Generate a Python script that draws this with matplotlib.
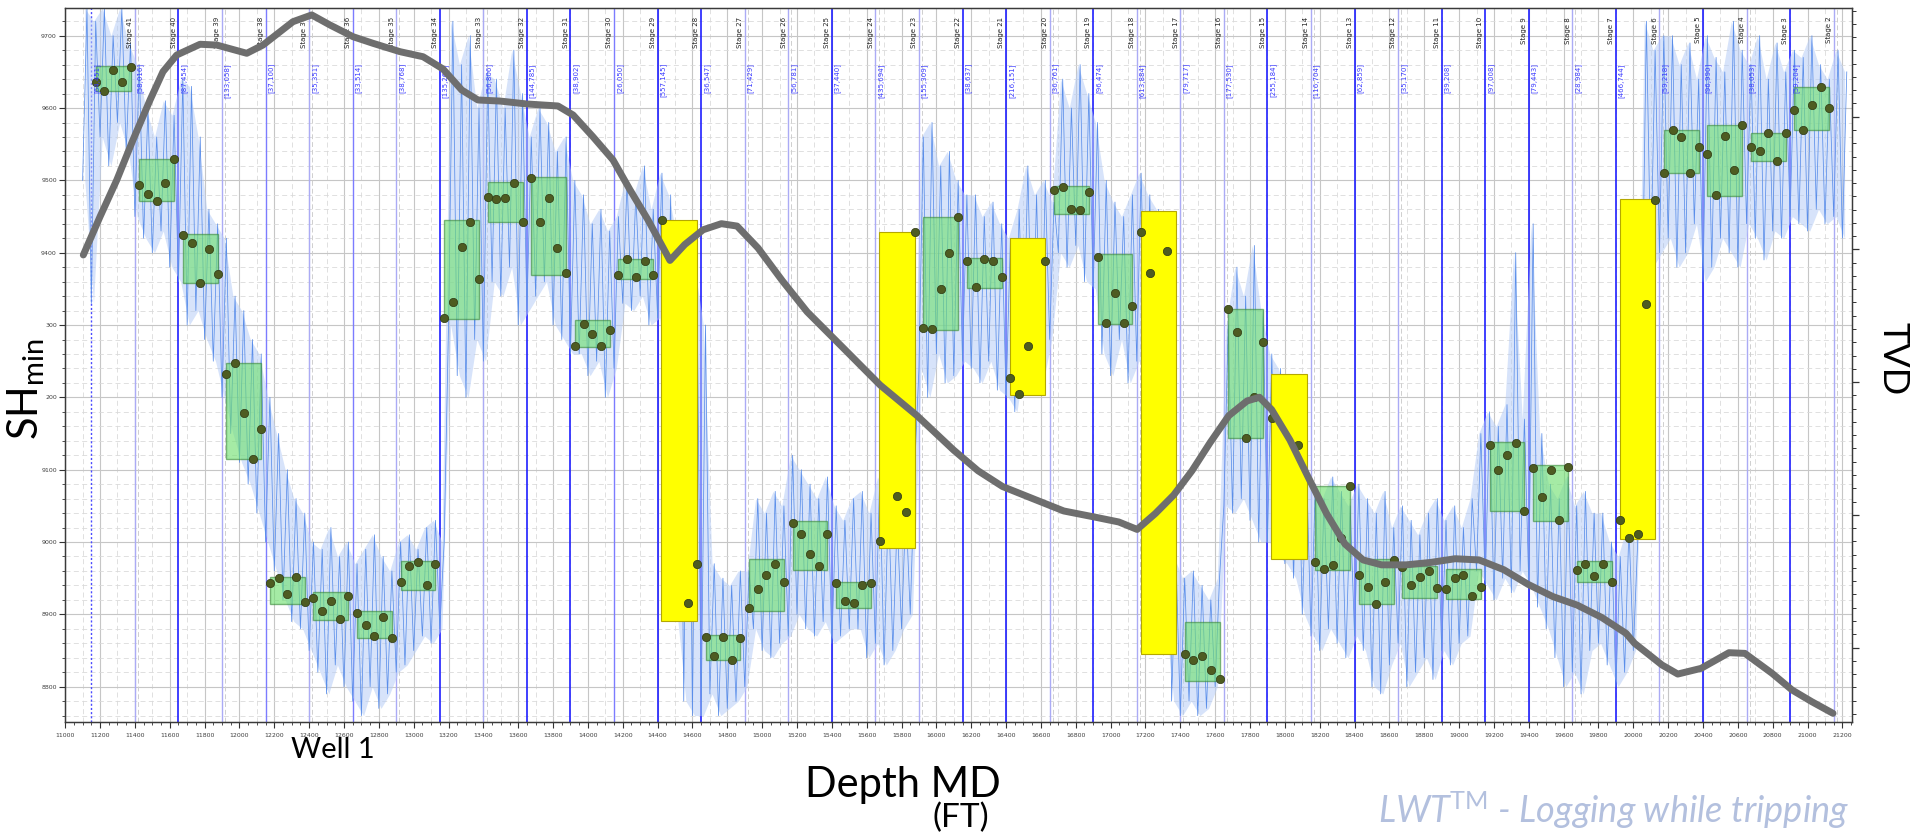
import numpy as np
import matplotlib
matplotlib.use("Agg")
import matplotlib.pyplot as plt
from matplotlib.patches import Rectangle
from matplotlib.ticker import MultipleLocator
import matplotlib.transforms as mtransforms

plt.rcParams['mathtext.fontset'] = 'custom'
plt.rcParams['mathtext.rm'] = 'Lato'
plt.rcParams['mathtext.it'] = 'Lato:italic'

# ---------------- data ----------------
# stage boundaries (MD, ft), 41 boundaries -> 40 stages (Stage 41 ... Stage 2)
stage_bounds = np.arange(11150, 21151, 250)
stage_names = [f"Stage {n}" for n in range(41, 1, -1)]
stage_tags = ["[64,451]", "[58,016]", "[87,454]", "[133,058]", "[37,100]", "[35,351]",
              "[33,514]", "[38,768]", "[135,260]", "[56,806]", "[144,785]", "[38,902]",
              "[26,050]", "[557,145]", "[36,547]", "[71,429]", "[56,781]", "[37,440]",
              "[435,694]", "[155,309]", "[38,637]", "[216,151]", "[36,761]", "[96,474]",
              "[613,884]", "[79,717]", "[177,530]", "[255,184]", "[116,704]", "[62,859]",
              "[35,170]", "[39,208]", "[97,008]", "[79,443]", "[28,984]", "[466,744]",
              "[59,218]", "[96,990]", "[38,053]", "[59,204]"]
bright_line = [2, 0, 2, 0, 1, 0, 1, 0, 2, 0, 2, 2, 1, 2, 2, 0, 0, 2, 0, 0, 2,
               2, 0, 2, 0, 0, 0, 2, 0, 2, 0, 2, 2, 2, 0, 2, 0, 2, 0, 2, 0]

# SHmin estimates per stage (5 per stage), NaN = not visible
stage_points = [
    [9636, 9624, 9653, 9636, 9657], [9494, 9481, 9472, 9496, 9530],
    [9424, 9413, 9358, 9405, 9370], [9232, 9248, 9179, 9115, 9156],
    [8944, 8950, 8928, 8951, 8917], [8922, 8905, 8918, 8893, 8925],
    [8902, 8885, 8870, 8896, 8868], [8945, 8967, 8972, 8940, 8970],
    [9310, 9332, 9408, 9443, 9364], [9477, 9474, 9476, 9497, 9443],
    [9503, 9442, 9476, 9406, 9372], [9271, 9302, 9288, 9271, 9293],
    [9369, 9391, 9367, 9388, 9369], [9445, np.nan, np.nan, 8916, 8970],
    [8869, 8843, 8869, 8837, 8867], [8909, 8935, 8955, 8970, 8945],
    [9026, 9011, 8984, 8967, 9011], [8943, 8918, 8916, 8941, 8943],
    [9002, np.nan, 9063, 9041, 9428], [9296, 9294, 9350, 9400, 9449],
    [9388, 9352, 9391, 9388, 9366], [9227, 9205, 9271, np.nan, 9389],
    [9487, 9491, 9460, 9459, 9484], [9394, 9303, 9344, 9303, 9327],
    [9428, 9372, np.nan, 9403, np.nan], [8845, 8837, 8843, 8823, 8810],
    [9322, 9290, 9144, 9200, 9276], [9171, np.nan, np.nan, 9134, np.nan],
    [8972, 8963, 8968, 9006, 9077], [8955, 8938, 8914, 8945, 8975],
    [8965, 8941, 8952, 8960, 8936], [8935, 8950, 8955, 8925, 8938],
    [9134, 9100, 9121, 9137, 9043], [9102, 9062, 9099, 9031, 9104],
    [8962, 8970, 8953, 8969, 8945], [9031, 9006, 9011, 9329, 9473],
    [9510, 9570, 9560, 9510, 9546], [9537, 9480, 9561, 9514, 9576],
    [9546, 9540, 9565, 9527, 9565], [9597, 9570, 9604, 9629, 9600],
]
box_lo = [9624, 9471, 9358, 9115, 8915, 8892, 8867, 8933, 9308, 9442, 9369, 9269, 9364,
          8891, 8837, 8904, 8962, 8909, 8992, 9293, 9351, 9203, 9454, 9301, 8845, 8808,
          9144, 8977, 8962, 8914, 8923, 8921, 9043, 9029, 8945, 9004, 9510, 9479, 9527, 9569]
box_hi = [9658, 9530, 9426, 9248, 8952, 8931, 8904, 8974, 9445, 9498, 9504, 9307, 9391,
          9445, 8872, 8977, 9029, 8945, 9428, 9450, 9393, 9420, 9492, 9398, 9457, 8889,
          9322, 9232, 9078, 8977, 8967, 8963, 9138, 9107, 8974, 9474, 9570, 9576, 9566, 9629]
high_volume = [13, 18, 21, 24, 27, 35]

# SHmin log trace envelope, sampled every 50 ft
trace_md = np.arange(11100, 21201, 50)
trace_hi = [9738, 9720,
            9738, 9700, 9738, 9690, 9660,
            9600, 9560, 9610, 9590, 9640,
            9630, 9560, 9460, 9440, 9420,
            9340, 9320, 9280, 9260,
            9200, 9150, 9100, 9060,
            9040, 9000, 8990, 9020, 8980, 9000, 8970, 8990, 9010, 8980, 8960, 9000, 9010, 8990, 9020, 9030, 9000,
            9720, 9660, 9700, 9600, 9650,
            9640, 9600, 9680, 9620, 9560, 9600, 9580, 9540, 9560, 9500,
            9480, 9440, 9460, 9430, 9450,
            9500, 9480, 9520, 9460, 9510,
            9480, 9420, 9400, 9380, 9300,
            8970, 8950, 8940, 8960, 8960,
            9060, 9040, 9070, 9050, 9120,
            9100, 9080, 9060, 9090, 9050, 9030, 9060,
            9070, 9040, 9090, 9060, 9030, 9050, 9100,
            9560, 9580, 9520, 9540, 9500, 9480,
            9480, 9450, 9470, 9440, 9420, 9460,
            9520, 9480, 9500, 9470,
            9640, 9600, 9660, 9620, 9580,
            9500, 9470, 9450, 9480, 9510,
            9480, 9460, 9420, 8980, 8950,
            8960, 8940, 8920, 8950,
            9300, 9380, 9340, 9410, 9320,
            9260, 9240, 9200, 9180,
            9100, 9080, 9060, 9090, 9070, 9050, 9080,
            9060, 9040, 9070, 9020, 9050, 9030, 9010, 9040, 9060, 9030, 9050, 9020, 9060,
            9150, 9180, 9160, 9190, 9400, 9170, 9440, 9150,
            9080, 9060, 9090, 9050, 9070, 9040,
            9040, 9000, 8980, 9020, 9000,
            9720, 9680, 9700,
            9700, 9660, 9690, 9640, 9700, 9670, 9650, 9720, 9680, 9660, 9700, 9640, 9690, 9650,
            9680, 9670, 9700, 9660, 9640, 9680, 9650]
trace_lo = [9500, 9330,
            9560, 9520, 9580, 9540, 9450,
            9420, 9400, 9430, 9380, 9360,
            9300, 9320, 9280, 9250, 9200,
            9150, 9110, 9080, 9040,
            9000, 8960, 8920, 8890,
            8880, 8850, 8820, 8790, 8830, 8800, 8780, 8760, 8800, 8770, 8790, 8820, 8830, 8850, 8870, 8860, 8880,
            9300, 9230, 9200, 9280, 9250,
            9360, 9340, 9380, 9300, 9320, 9340, 9360, 9300, 9280, 9260,
            9260, 9230, 9250, 9200, 9240,
            9330, 9320, 9340, 9300, 9310,
            9200, 8900, 8780, 8760, 8760,
            8790, 8760, 8770, 8780, 8800,
            8880, 8850, 8840, 8860, 8870,
            8900, 8880, 8870, 8890, 8860, 8870, 8880,
            8880, 8840, 8860, 8830, 8850, 8880, 8900,
            9240, 9200, 9260, 9220, 9230, 9250,
            9240, 9220, 9250, 9210, 9200, 9180,
            9260, 9230, 9220, 9280,
            9400, 9380, 9410, 9360, 9350,
            9260, 9230, 9280, 9220, 9250,
            9250, 9100, 8900, 8780, 8760,
            8780, 8760, 8770, 8800,
            9050, 9040, 9060, 9030, 9000,
            9000, 8980, 8970, 8950,
            8900, 8870, 8850, 8880, 8860, 8840, 8870,
            8850, 8800, 8790, 8830, 8860, 8800, 8820, 8840, 8810, 8850, 8830, 8860, 8870,
            8960, 8940, 8920, 8950, 8930, 8960, 8940, 8910,
            8880, 8840, 8800, 8820, 8790, 8850,
            8860, 8830, 8800, 8820, 8850,
            9300, 9380, 9400,
            9420, 9380, 9400, 9440, 9360, 9380, 9420, 9400, 9380, 9440, 9420, 9390, 9430, 9420,
            9450, 9440, 9430, 9460, 9440, 9450, 9420]

# TVD curve (MD ft, TVD ft)
tvd_md = [11104, 11200, 11296, 11389, 11487, 11561, 11640, 11774, 11870, 12042, 12135,
          12307, 12415, 12520, 12652, 12767, 12922, 13054, 13168, 13276, 13369, 13496,
          13649, 13828, 13915, 14029, 14144, 14242, 14345, 14471, 14556, 14661, 14766,
          14856, 14976, 15117, 15258, 15468, 15677, 15889, 16099, 16239, 16380, 16555,
          16731, 16905, 17047, 17152, 17257, 17362, 17467, 17571, 17678, 17783, 17854,
          17924, 18029, 18133, 18239, 18345, 18449, 18555, 18696, 18836, 18977, 19115,
          19257, 19396, 19538, 19677, 19818, 19958, 20007, 20165, 20255, 20389, 20549,
          20640, 20796, 20911, 21024, 21146]
tvd_val = [8020.42, 8017.53, 8014.77, 8011.75, 8008.74, 8006.61, 8005.35, 8004.54, 8004.60,
           8005.22, 8004.60, 8002.84, 8002.33, 8003.09, 8003.97, 8004.47, 8005.10, 8005.48,
           8006.40, 8007.99, 8008.74, 8008.82, 8009.04, 8009.19, 8009.87, 8011.51, 8013.26,
           8015.52, 8017.78, 8020.83, 8019.63, 8018.52, 8018.06, 8018.24, 8019.89, 8022.38,
           8024.70, 8027.46, 8030.22, 8032.53, 8035.12, 8036.68, 8037.87, 8038.79, 8039.71,
           8040.16, 8040.54, 8041.10, 8039.90, 8038.51, 8036.68, 8034.56, 8032.53, 8031.42,
           8031.14, 8032.07, 8034.36, 8037.14, 8039.90, 8042.20, 8043.40, 8043.77, 8043.77,
           8043.59, 8043.31, 8043.40, 8044.14, 8045.24, 8046.16, 8046.80, 8047.73, 8048.93,
           8049.68, 8051.32, 8052.00, 8051.57, 8050.39, 8050.44, 8051.94, 8053.20, 8054.08,
           8054.96]

y_tick_vals = [9700, 9600, 9500, 9400, 9300, 9200, 9100, 9000, 8900, 8800]
y_tick_text = ["9700", "9600", "9500", "9400", "300", "200", "9100", "9000", "8900", "8800"]

# ---------------- figure ----------------
fig = plt.figure(figsize=(19.17, 8.35), dpi=100)
ax = fig.add_axes([0.03401, 0.13569, 0.93208, 0.85437])
ax.set_xlim(11000, 21255)
ax.set_ylim(8751.6, 9737.9)
ax.set_facecolor('white')

ax.xaxis.set_major_locator(MultipleLocator(200))
ax.xaxis.set_minor_locator(MultipleLocator(50))
ax.set_yticks(y_tick_vals)
ax.set_yticklabels(y_tick_text)
ax.yaxis.set_minor_locator(MultipleLocator(20))
ax.tick_params(axis='both', which='major', labelsize=4.5, labelcolor='#404040',
               color='#333333', length=4, width=0.8, direction='out', pad=2)
ax.tick_params(axis='both', which='minor', color='#333333', length=2.5, width=0.6,
               direction='out')
ax.tick_params(axis='x', pad=4)

ax.grid(which='major', color='#c6c6c6', lw=0.8, zorder=0)
ax.grid(which='minor', axis='y', color='#dadada', lw=0.6, ls=(0, (6, 4)), zorder=0)
for xg in np.arange(11100, 21255, 200):
    ax.axvline(xg, color='#dadada', lw=0.6, ls=(0, (6, 4)), zorder=0)
ax.set_axisbelow(True)
for s in ax.spines.values():
    s.set_color('#3a3a3a')
    s.set_linewidth(1.0)

# stage boundary lines
for k, xb in enumerate(stage_bounds):
    if k == 0:
        ax.axvline(xb, color='#4a4aff', lw=1.0, ls=(0, (1.5, 1.5)), zorder=1.5)
    elif bright_line[k] == 2:
        ax.axvline(xb, color='#1f1fff', lw=1.2, zorder=1.5)
    elif bright_line[k] == 1:
        ax.axvline(xb, color='#7c7cff', lw=1.0, zorder=1.5)
    else:
        ax.axvline(xb, color='#ababf5', lw=1.0, zorder=1.5)
        ax.axvline(xb + 18, color='#cfcfcf', lw=0.7, ls=(0, (5, 3)), zorder=1.4)

# SHmin trace
md = np.asarray(trace_md, dtype=float)
hi = np.asarray(trace_hi, dtype=float)
lo = np.asarray(trace_lo, dtype=float)
zx = np.empty(2 * len(md))
zy = np.empty(2 * len(md))
zx[0::2] = md
zx[1::2] = md + 25
zy[0::2] = lo
zy[1::2] = hi
ax.fill_between(md + 12.5, lo, hi, color='#b6cdf7', alpha=0.55, lw=0, zorder=2)
ax.plot(zx, zy, color='#5a8eea', lw=0.55, zorder=2.2)

# stage boxes and points
trans_top = mtransforms.blended_transform_factory(ax.transData, ax.transAxes)
for k in range(40):
    x0 = stage_bounds[k]
    if k in high_volume:
        r = Rectangle((x0 + 22, box_lo[k]), 203, box_hi[k] - box_lo[k],
                      facecolor='#ffff00', edgecolor='#b5a800', lw=0.8, zorder=3.5)
    else:
        r = Rectangle((x0 + 25, box_lo[k]), 200, box_hi[k] - box_lo[k],
                      facecolor='#6fe06f', alpha=0.62, edgecolor='#3a8a3a', lw=1.0, zorder=3)
    ax.add_patch(r)
    px = x0 + 25 + 50 * np.arange(5)
    py = np.asarray(stage_points[k], dtype=float)
    ax.scatter(px, py, s=36, color='#4e5c22', edgecolors='#2e3812', linewidths=0.5, zorder=5)
    ax.text(stage_bounds[k + 1] - 10, 0.988, stage_names[k], rotation=90, ha='right',
            va='top', fontsize=5, color='#222222', transform=trans_top, zorder=6)
    ax.text(x0 + 12, 0.923, stage_tags[k], rotation=90, ha='left', va='top',
            fontsize=5, color='#3a3aff', transform=trans_top, zorder=6)

# TVD axis
ax2 = ax.twinx()
ax2.set_ylim(8055.59, 8001.83)
ax2.yaxis.set_major_locator(MultipleLocator(10))
ax2.yaxis.set_minor_locator(MultipleLocator(1))
ax2.tick_params(axis='y', which='major', length=5, width=0.9, color='#333333',
                labelright=False, direction='out')
ax2.tick_params(axis='y', which='minor', length=3, width=0.7, color='#333333',
                direction='out')
ax2.plot(tvd_md, tvd_val, color='#6e6e6e', lw=5, solid_capstyle='round',
         solid_joinstyle='round', zorder=10)
for s in ax2.spines.values():
    s.set_color('#3a3a3a')

# labels
fig.text(0.0135, 0.534, r'SH$_{\mathrm{min}}$', rotation=90, fontsize=30,
         family='Lato', ha='center', va='center', color='black')
fig.text(0.9875, 0.57, 'TVD', rotation=270, fontsize=26, family='Lato',
         ha='center', va='center', color='black')
fig.text(333 / 1917, 1 - 750 / 835, 'Well 1', fontsize=21, family='Lato',
         ha='center', va='center', color='black')
fig.text(903 / 1917, 1 - 785 / 835, 'Depth MD', fontsize=30, family='Lato',
         ha='center', va='center', color='black')
fig.text(961 / 1917, 1 - 818 / 835, '(FT)', fontsize=24, family='Lato',
         ha='center', va='center', color='black')
fig.text(1614 / 1917, 4 / 835, r'LWT$^{\mathrm{TM}}$ - Logging while tripping',
         fontsize=26, family='Lato', style='italic', ha='center', va='bottom',
         color='#b3c0de')

fig.savefig('out.png', dpi=100)
